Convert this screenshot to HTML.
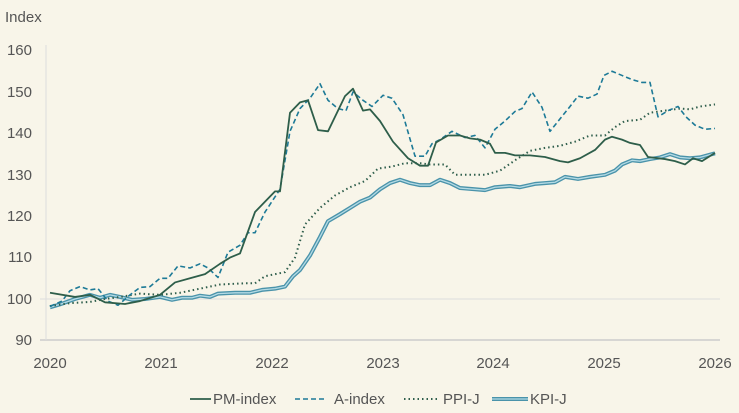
<!DOCTYPE html><html><head><style>body{margin:0;background:#f8f5e9}svg{display:block;font-family:"Liberation Sans",sans-serif}</style></head><body>
<svg width="739" height="413" viewBox="0 0 739 413">
<rect width="739" height="413" fill="#f8f5e9"/>
<g fill="#555" font-size="15">
<text x="5" y="22">Index</text>
<g text-anchor="end"><text x="32" y="55">160</text><text x="32" y="97">150</text><text x="32" y="138">140</text><text x="32" y="180">130</text><text x="32" y="221">120</text><text x="32" y="262">110</text><text x="32" y="304">100</text><text x="32" y="345">90</text></g>
<g text-anchor="middle"><text x="50" y="368">2020</text><text x="161" y="368">2021</text><text x="272" y="368">2022</text><text x="383" y="368">2023</text><text x="493" y="368">2024</text><text x="604" y="368">2025</text><text x="715" y="368">2026</text></g>
</g>
<line x1="40" y1="299" x2="720" y2="299" stroke="#ddd" stroke-width="1"/>
<line x1="40" y1="340" x2="720" y2="340" stroke="#ccc" stroke-width="1.5"/>
<line x1="46" y1="45" x2="46" y2="340" stroke="#ddd" stroke-width="1"/>
<g fill="none" transform="matrix(1,0,0,-4.14,0,713)" stroke-linejoin="round">
<path vector-effect="non-scaling-stroke" stroke="#4a93aa" stroke-width="4" d="M50 98L60 98.7L75 100L90 101L100 100.3L110 101L120 100.5L132 99.8L145 100L160 100.5L172 99.8L182 100.3L192 100.3L200 100.8L210 100.5L218 101.3L235 101.5L250 101.5L262 102.2L275 102.5L285 103L293 105.5L300 107L310 110.5L320 115L328 118.8L340 120.5L350 122L360 123.5L370 124.5L380 126.5L390 128L400 128.8L410 128L420 127.5L430 127.5L440 128.8L450 128L460 126.8L475 126.5L485 126.3L495 127L510 127.3L520 127L535 127.8L545 128L555 128.2L565 129.5L578 129L590 129.5L605 130L615 131L622 132.5L632 133.5L640 133.3L650 133.8L660 134.2L670 135L680 134.2L690 134L700 134.2L715 135.2"/>
<path vector-effect="non-scaling-stroke" stroke="#b5dbe5" stroke-width="1.3" d="M50 98L60 98.7L75 100L90 101L100 100.3L110 101L120 100.5L132 99.8L145 100L160 100.5L172 99.8L182 100.3L192 100.3L200 100.8L210 100.5L218 101.3L235 101.5L250 101.5L262 102.2L275 102.5L285 103L293 105.5L300 107L310 110.5L320 115L328 118.8L340 120.5L350 122L360 123.5L370 124.5L380 126.5L390 128L400 128.8L410 128L420 127.5L430 127.5L440 128.8L450 128L460 126.8L475 126.5L485 126.3L495 127L510 127.3L520 127L535 127.8L545 128L555 128.2L565 129.5L578 129L590 129.5L605 130L615 131L622 132.5L632 133.5L640 133.3L650 133.8L660 134.2L670 135L680 134.2L690 134L700 134.2L715 135.2"/>
<path vector-effect="non-scaling-stroke" stroke="#2f5e4c" stroke-width="2" stroke-dasharray="1.5 3" d="M50 98.3L70 99L90 99.3L105 100L120 100.5L140 101.3L160 101L180 101.5L200 102.5L220 103.5L245 103.8L255 103.8L265 105.5L275 106L285 106.5L295 110L305 118L320 122L335 125L350 127L365 128.5L378 131.5L392 132L405 132.8L420 132.8L430 132.5L445 132.5L455 130L470 130L485 130L500 131L515 133.5L530 135.8L545 136.5L560 137L575 138L590 139.5L605 139.5L615 141.5L625 143L640 143.3L650 145L665 145.5L680 146L690 145.8L700 146.5L715 147"/>
<path vector-effect="non-scaling-stroke" stroke="#1d7a97" stroke-width="1.6" stroke-dasharray="5 3" d="M50 98.2L62 99.5L70 102L80 103L90 102.2L98 102.5L108 99.5L118 98.5L130 101L140 102.8L150 103L160 105L168 105L178 108L190 107.5L200 108.5L208 107.5L218 105.2L228 111.3L240 113L248 116L255 116L265 121L280 126.5L290 140.5L300 146L310 148.5L320 152L328 148L338 146L346 145.5L353 150L363 148L372 146.5L383 149.2L392 148.5L403 144.5L415 134.5L425 134.5L432 137.5L440 138.5L452 140.5L465 139L475 139.5L485 136.5L495 141L505 143L515 145.3L522 146L532 150L542 146.3L550 140.5L560 143.5L570 146.5L578 149L588 148.5L597 149.5L604 154L612 155L622 154L632 153L642 152.3L650 152.3L658 144L668 145.5L678 146.5L686 144L695 142L705 141L715 141.2"/>
<path vector-effect="non-scaling-stroke" stroke="#2e5e4a" stroke-width="1.8" d="M50 101.5L75 100.5L90 101L105 99.2L125 98.8L140 99.5L160 101L175 104L190 105L205 106L220 108.5L230 110L240 111L255 121L275 126L280 126L290 145L300 147.5L308 148L318 140.8L328 140.5L345 149L353 150.8L363 145.5L370 145.8L380 143L393 138L408 134L420 132.2L428 132.2L436 137.8L448 139.5L460 139.5L470 138.8L480 138.5L490 137.5L495 135.3L505 135.3L515 134.7L530 134.7L545 134.3L560 133.3L568 133L580 134L595 136L605 138.5L612 139.2L622 138.5L630 137.7L640 137.2L648 134.3L665 133.8L675 133.3L685 132.5L693 134L702 133.3L715 135.3"/>
</g>
<g font-size="15" fill="#555">
<line x1="190" y1="399" x2="211" y2="399" stroke="#2e5e4a" stroke-width="1.8"/><text x="213" y="404">PM-index</text>
<line x1="295" y1="399" x2="327" y2="399" stroke="#1d7a97" stroke-width="1.6" stroke-dasharray="5 3"/><text x="334" y="404">A-index</text>
<line x1="404" y1="399" x2="440" y2="399" stroke="#2f5e4c" stroke-width="2" stroke-dasharray="1.5 3"/><text x="443" y="404">PPI-J</text>
<line x1="492" y1="399" x2="528" y2="399" stroke="#4a93aa" stroke-width="4"/><line x1="492" y1="399" x2="528" y2="399" stroke="#b5dbe5" stroke-width="1.3"/><text x="530" y="404">KPI-J</text>
</g>
</svg>
</body></html>
